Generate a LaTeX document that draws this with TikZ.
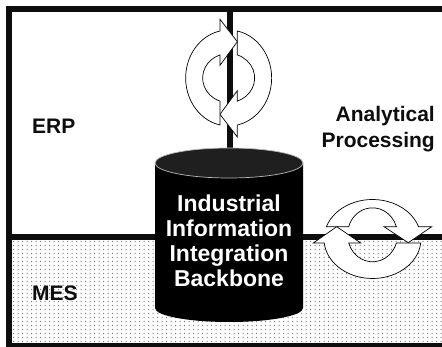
\documentclass[tikz,border=0pt]{standalone}
\usepackage{fontspec}
\setmainfont{Liberation Sans}
\begin{document}
\begin{tikzpicture}[x=1pt,y=-1pt,
  frameline/.style={line width=6pt, draw=black!95, line join=miter},
  sidelabel/.style={font=\fontsize{21}{25.6}\selectfont\bfseries, text=black!95, inner sep=0pt},
  cyltext/.style={font=\fontsize{23}{25}\selectfont\bfseries, text=white, inner sep=0pt, align=center},
  cyclearrow/.style={fill=white, draw=black, line width=0.7pt, line join=miter}]
\useasboundingbox (0,0) rectangle (442,347);
\fill[white] (0,0) rectangle (442,347);
% dotted MES area
\fill[black!50] \foreach \x in {13,17.5,...,441} { \foreach \y in {241,245,...,341} { (\x,\y) rectangle ++(1.2,1.2) } };
% frame and dividers
\draw[frameline] (446,9) -- (9,9) -- (9,350);
\draw[frameline] (9,345.7) -- (446,345.7);
\draw[frameline] (229.7,6) -- (229.7,165);
\draw[frameline] (9,237) -- (446,237);
% cylinder
\fill[black] (155,163) -- (155,308) arc[start angle=180, end angle=0, x radius=74, y radius=14] -- (303,163) -- cycle;
\filldraw[fill=black!88, draw=gray!55, line width=0.7pt] (229,163) ellipse [x radius=74, y radius=15];
\node[cyltext, anchor=north] (iib) at (229,195) {Industrial\\Information\\Integration\\Backbone};
% top cycle arrows
\filldraw[cyclearrow] (237.3,54.9) -- (237.3,30.98) arc[start angle=-78.39, end angle=78.39, x radius=43, y radius=48] -- (237.3,137) -- (220,114.3) -- (237.3,90.7) -- (237.3,101.1) arc[start angle=70.57, end angle=-70.57, x radius=26, y radius=24.5] -- cycle;
\filldraw[cyclearrow] (220,101.1) -- (220,125.02) arc[start angle=101.61, end angle=258.39, x radius=43, y radius=48] -- (220,19.3) -- (237.3,41.7) -- (220,65.3) -- (220,54.9) arc[start angle=250.57, end angle=109.43, x radius=26, y radius=24.5] -- cycle;
% lower right cycle arrows
\filldraw[cyclearrow] (348.65,226.7) -- (326.41,226.7) arc[start angle=198.14, end angle=341.86, x radius=48.5, y radius=39.5] -- (431.7,226.7) -- (408.3,242.7) -- (384,226.7) -- (396.35,226.7) arc[start angle=342.54, end angle=197.46, x radius=25, y radius=27] -- cycle;
\filldraw[cyclearrow] (396.32,243) -- (420.75,243) arc[start angle=5.81, end angle=174.19, x radius=48.5, y radius=39.5] -- (313.3,243) -- (336.7,226.7) -- (360.7,243) -- (348.68,243) arc[start angle=162.32, end angle=17.68, x radius=25, y radius=27] -- cycle;
% labels
\node[sidelabel, anchor=base west] (erp) at (32,134) {ERP};
\node[sidelabel, anchor=base west] (mes) at (32,301) {MES};
\node[sidelabel, anchor=north east, align=right] (ap) at (435,106.5) {Analytical\\Processing};
\end{tikzpicture}
\end{document}
